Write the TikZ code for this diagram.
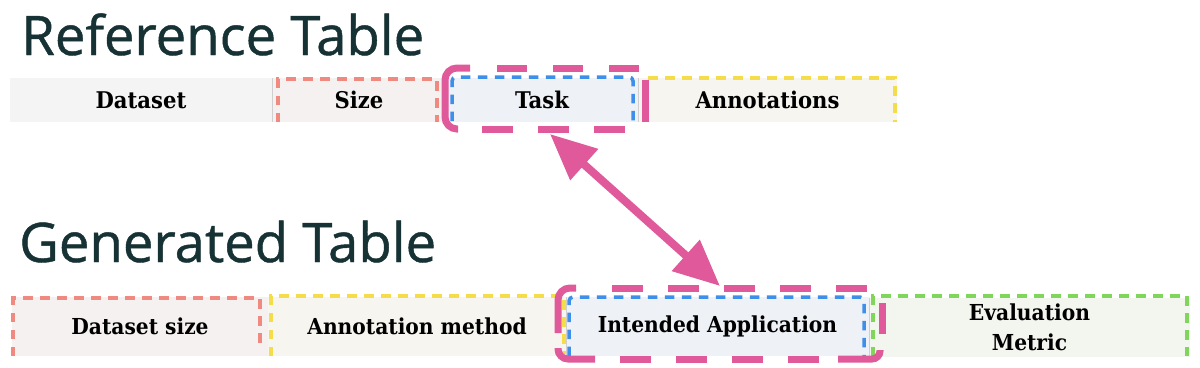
\documentclass[tikz,border=0pt]{standalone}
\usepackage{fontspec}
\setmainfont{DejaVu Serif}
\newfontfamily\cellfont[FakeStretch=0.92]{DejaVu Serif}
\newfontfamily\titlefont[FakeBold=0.8]{Open Sans}
\usetikzlibrary{arrows.meta}
\definecolor{titlec}{HTML}{173234}
\definecolor{pinkc}{HTML}{E05A9B}
\definecolor{bluec}{HTML}{3D8FEA}
\definecolor{redc}{HTML}{F08A80}
\definecolor{yellowc}{HTML}{F5DC4A}
\definecolor{greenc}{HTML}{80D65A}
\definecolor{sepc}{HTML}{CFCFCF}
\definecolor{fillgray}{HTML}{F4F4F4}
\definecolor{fillred}{HTML}{F5F1F0}
\definecolor{fillblue}{HTML}{EEF1F6}
\definecolor{fillyellow}{HTML}{F6F5EF}
\definecolor{fillgreen}{HTML}{F3F5EF}
\tikzset{
  cell/.style={draw=none, inner sep=0pt, outer sep=0pt, text=black},
  topcell/.style={cell, minimum height=44pt, font=\cellfont\fontsize{23}{26}\selectfont\bfseries},
  botcell/.style={cell, minimum height=59pt, font=\cellfont\fontsize{22}{30}\selectfont\bfseries, align=center},
  thindash/.style={line width=3.5pt, dash pattern=on 9.5pt off 7.5pt},
  pinkdash/.style={draw=pinkc, line width=7pt},
  sepline/.style={draw=sepc, line width=0.8pt},
  titletext/.style={anchor=base west, inner sep=0pt, text=titlec, font=\titlefont\fontsize{54.5}{60}\selectfont},
  bigarrow/.style={draw=pinkc, line width=8pt, {Triangle[length=46pt,width=40pt]}-{Triangle[length=46pt,width=40pt]}}
}
\begin{document}
\begin{tikzpicture}[x=1pt,y=-1pt]
\useasboundingbox (0,0) rectangle (1200,367);
\fill[white] (0,0) rectangle (1200,367);

% titles
\node[titletext] (reftitle) at (21,55) {Reference Table};
\node[titletext] (gentitle) at (19,262) {Generated Table};

% reference table cells
\node[topcell, fill=fillgray, minimum width=262pt] (dataset) at (141,100) {Dataset};
\node[topcell, fill=fillred, minimum width=174pt] (size) at (359,100) {Size};
\node[topcell, fill=fillblue, minimum width=192pt] (task) at (542,100) {Task};
\node[topcell, fill=fillyellow, minimum width=259pt] (annot) at (767.5,100) {Annotations};
\draw[sepline] (size.north west) -- (size.south west);
\draw[sepline] (annot.north west) -- (annot.south west);

% generated table cells
\node[botcell, fill=fillred, minimum width=256pt] (dsize) at (140,326) {Dataset size};
\node[botcell, fill=fillyellow, minimum width=298pt] (amethod) at (417,326) {Annotation method};
\node[botcell, fill=fillblue, minimum width=303pt] (intapp) at (717.5,326) {Intended Application};
\node[botcell, fill=fillgreen, minimum width=321pt] (evalm) at (1029.5,327) {Evaluation\\Metric};
\draw[sepline] (intapp.north west) -- (intapp.south west);
\draw[sepline] (evalm.north west) -- (evalm.south west);

% reference highlight boxes
\draw[thindash, draw=redc] (278,122) -- (278,79) -- (437,79) -- (437,122);
\draw[thindash, draw=bluec, rounded corners=4pt] (452,121) -- (452,77) -- (633,77) -- (633,121);
\draw[thindash, draw=yellowc] (648,78) -- (895,78) -- (895,122);

% generated highlight boxes
\draw[thindash, draw=redc] (13,356) -- (13,298) -- (260,298) -- (260,350);
\draw[thindash, draw=yellowc] (271,356) -- (271,296) -- (564,296) -- (564,354);
\draw[thindash, draw=bluec, rounded corners=4pt] (569,356) -- (569,297) -- (864,297) -- (864,356);
\draw[thindash, draw=greenc] (873,356) -- (873,296) -- (1187,296) -- (1187,356);

% big pink dashed box, reference table (Task)
\draw[pinkdash, rounded corners=12pt] (470,68) -- (445,68) -- (445,129) -- (458,129);
\draw[pinkdash, dash pattern=on 30pt off 26pt] (497,68) -- (640,68);
\draw[pinkdash, dash pattern=on 31pt off 25pt] (482,129) -- (626,129);
\draw[pinkdash] (645,80) -- (645,122);

% big pink dashed box, generated table (Intended Application)
\draw[pinkdash, rounded corners=12pt] (576,288) -- (558,288) -- (558,333);
\draw[pinkdash, rounded corners=10pt] (558,348) -- (558,359) -- (595,359);
\draw[pinkdash, dash pattern=on 31pt off 25pt] (612,288) -- (868,288);
\draw[pinkdash, dash pattern=on 31pt off 25pt] (620,359) -- (822,359);
\draw[pinkdash, rounded corners=8pt] (838,359) -- (880,359) -- (880,350);
\draw[pinkdash] (882,303) -- (882,334);

% connector
\coordinate (arrA) at (550,134);
\coordinate (arrB) at (720,286);
\draw[bigarrow] (arrA) -- (arrB);
\end{tikzpicture}
\end{document}
